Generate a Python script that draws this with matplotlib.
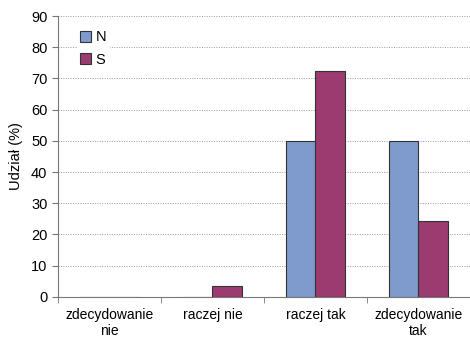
import matplotlib
matplotlib.use("Agg")
import matplotlib.pyplot as plt
import numpy as np

plt.rcParams['font.family'] = ['Liberation Sans', 'DejaVu Sans']

categories = ["zdecydowanie\nnie", "raczej nie", "raczej tak", "zdecydowanie\ntak"]
series_names = ["N", "S"]
values_N = [0, 0, 50, 50]
values_S = [0, 3.6, 72.4, 24.2]
yticks = [0, 10, 20, 30, 40, 50, 60, 70, 80, 90]

fig = plt.figure(figsize=(4.7, 3.42), dpi=100)
ax = fig.add_axes([0.123, 0.132, 0.877, 0.821])

x = np.arange(len(categories))
w = 0.285
ax.bar(x - w/2, values_N, w, color="#7f9acc", edgecolor="#333333", linewidth=0.8, label=series_names[0], zorder=3)
ax.bar(x + w/2, values_S, w, color="#9b3b6f", edgecolor="#333333", linewidth=0.8, label=series_names[1], zorder=3)

ax.set_xlim(-0.5, len(categories) - 0.5)
ax.set_ylim(0, 90)
ax.set_yticks(yticks)
ax.yaxis.grid(True, linestyle=(0, (1, 1.5)), color="#999999", linewidth=0.7, zorder=0)
ax.set_xticks(x)
ax.set_xticklabels(categories, fontsize=10)
ax.tick_params(axis='x', length=0, pad=8)
ax.set_xticks(np.arange(-0.5, len(categories)), minor=True)
ax.tick_params(axis='x', which='minor', length=4, color="#777777", direction='out')
ax.tick_params(axis='y', labelsize=10.5, length=4, color="#777777", direction='out')
for s in ['top', 'right']:
    ax.spines[s].set_visible(False)
for s in ['left', 'bottom']:
    ax.spines[s].set_color("#777777")
ax.set_ylabel("Udział (%)", fontsize=10.5, labelpad=6)

leg = ax.legend(loc='upper left', bbox_to_anchor=(0.03, 0.985), frameon=True, fontsize=10.5,
                handlelength=0.75, handleheight=0.75, handletextpad=0.3, labelspacing=0.55,
                borderpad=0.2, fancybox=False)
leg.get_frame().set_edgecolor('white')
leg.get_frame().set_facecolor('white')
leg.get_frame().set_alpha(1)
for h in leg.legend_handles:
    h.set_edgecolor("#333333")

fig.savefig("out.png", dpi=100)
